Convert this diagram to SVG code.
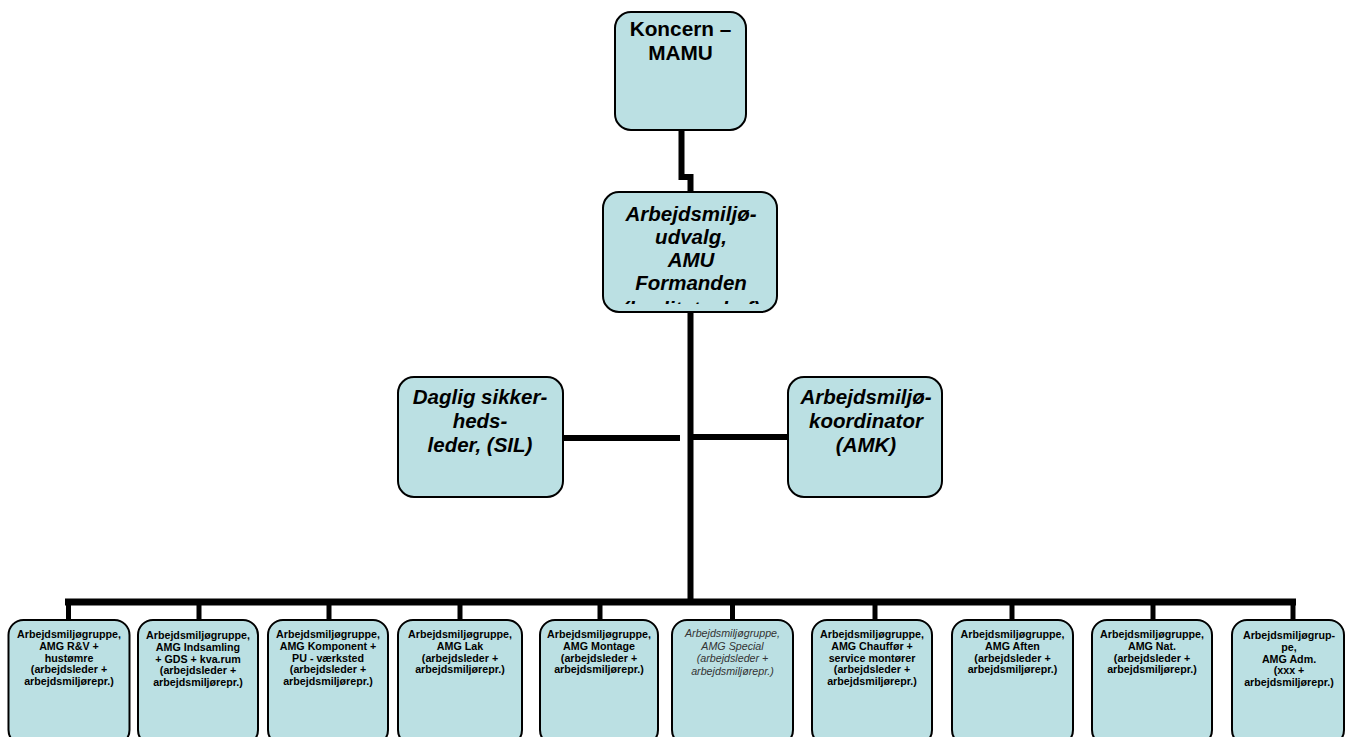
<svg xmlns="http://www.w3.org/2000/svg" width="1345" height="737" viewBox="0 0 1345 737">
<style>
.box{fill:#bbe0e3;stroke:#000;stroke-width:2}
.t{font-family:"Liberation Sans",Arial,sans-serif;text-anchor:middle;fill:#000}
.big{font-size:20.8px;font-weight:bold}
.bi{font-size:20.5px;font-weight:bold;font-style:italic}
.sm{font-size:10.7px;font-weight:bold}
.si{font-size:10.7px;font-style:italic;fill:#333}
.ln{fill:none;stroke:#000;stroke-linejoin:miter;stroke-linecap:butt}
</style>
<defs>
<clipPath id="amuclip"><rect x="603" y="192" width="174" height="112"/></clipPath>
</defs>
<rect width="1345" height="737" fill="#fff"/>
<g id="connectors">
<polyline class="ln" stroke-width="6" points="681.5,130 681.5,177 690.5,177 690.5,192"/>
<line class="ln" stroke-width="6" x1="690.5" y1="312" x2="690.5" y2="605"/>
<line class="ln" stroke-width="6" x1="563" y1="438" x2="680" y2="438"/>
<line class="ln" stroke-width="6" x1="693" y1="437" x2="788" y2="437"/>
<line class="ln" stroke-width="7" x1="65" y1="602" x2="1296" y2="602"/>
<g stroke-width="5" class="ln">
<line x1="68.5" y1="602" x2="68.5" y2="620"/>
<line x1="199" y1="602" x2="199" y2="620"/>
<line x1="329" y1="602" x2="329" y2="620"/>
<line x1="460" y1="602" x2="460" y2="620"/>
<line x1="600" y1="602" x2="600" y2="620"/>
<line x1="732.5" y1="602" x2="732.5" y2="620"/>
<line x1="875" y1="602" x2="875" y2="620"/>
<line x1="1012" y1="602" x2="1012" y2="620"/>
<line x1="1153" y1="602" x2="1153" y2="620"/>
<line x1="1293" y1="602" x2="1293" y2="620"/>
</g>
</g>
<g id="n-koncern">
<rect class="box" x="615" y="12" width="131" height="118" rx="16"/>
<text class="t big" x="680.5" y="36">Koncern –</text>
<text class="t big" x="680.5" y="60">MAMU</text>
</g>
<g id="n-amu">
<rect class="box" x="603" y="192" width="174" height="120" rx="16"/>
<g clip-path="url(#amuclip)">
<text class="t bi" x="691" y="221">Arbejdsmiljø-</text>
<text class="t bi" x="691" y="244">udvalg,</text>
<text class="t bi" x="691" y="267">AMU</text>
<text class="t bi" x="691" y="290">Formanden</text>
<text class="t bi" x="691" y="316">(kvalitetschef)</text>
</g>
</g>
<g id="n-sil">
<rect class="box" x="398" y="377" width="165" height="120" rx="16"/>
<text class="t bi" x="480" y="404">Daglig sikker-</text>
<text class="t bi" x="480" y="428">heds-</text>
<text class="t bi" x="480" y="452">leder, (SIL)</text>
</g>
<g id="n-amk">
<rect class="box" x="788" y="377" width="154" height="120" rx="16"/>
<text class="t bi" x="866" y="404">Arbejdsmiljø-</text>
<text class="t bi" x="866" y="428">koordinator</text>
<text class="t bi" x="866" y="452">(AMK)</text>
</g>
<g id="n-rv">
<rect class="box" x="8.5" y="620" width="121" height="125" rx="15"/>
<text class="t sm" x="69" y="638">Arbejdsmiljøgruppe,</text>
<text class="t sm" x="69" y="649.8">AMG R&amp;V +</text>
<text class="t sm" x="69" y="661.6">hustømre</text>
<text class="t sm" x="69" y="673.4">(arbejdsleder +</text>
<text class="t sm" x="69" y="685.2">arbejdsmiljørepr.)</text>
</g>
<g id="n-indsamling">
<rect class="box" x="138" y="620" width="120" height="125" rx="15"/>
<text class="t sm" x="198" y="639">Arbejdsmiljøgruppe,</text>
<text class="t sm" x="198" y="650.8">AMG Indsamling</text>
<text class="t sm" x="198" y="662.6">+ GDS + kva.rum</text>
<text class="t sm" x="198" y="674.4">(arbejdsleder +</text>
<text class="t sm" x="198" y="686.2">arbejdsmiljørepr.)</text>
</g>
<g id="n-komponent">
<rect class="box" x="268" y="620" width="120" height="125" rx="15"/>
<text class="t sm" x="328" y="638">Arbejdsmiljøgruppe,</text>
<text class="t sm" x="328" y="649.8">AMG Komponent +</text>
<text class="t sm" x="328" y="661.6">PU - værksted</text>
<text class="t sm" x="328" y="673.4">(arbejdsleder +</text>
<text class="t sm" x="328" y="685.2">arbejdsmiljørepr.)</text>
</g>
<g id="n-lak">
<rect class="box" x="398" y="620" width="124" height="125" rx="15"/>
<text class="t sm" x="460" y="638">Arbejdsmiljøgruppe,</text>
<text class="t sm" x="460" y="649.8">AMG Lak</text>
<text class="t sm" x="460" y="661.6">(arbejdsleder +</text>
<text class="t sm" x="460" y="673.4">arbejdsmiljørepr.)</text>
</g>
<g id="n-montage">
<rect class="box" x="540" y="620" width="118" height="125" rx="15"/>
<text class="t sm" x="599" y="638">Arbejdsmiljøgruppe,</text>
<text class="t sm" x="599" y="649.8">AMG Montage</text>
<text class="t sm" x="599" y="661.6">(arbejdsleder +</text>
<text class="t sm" x="599" y="673.4">arbejdsmiljørepr.)</text>
</g>
<g id="n-special">
<rect class="box" x="672" y="620" width="121" height="125" rx="15"/>
<text class="t si" x="732.5" y="637">Arbejdsmiljøgruppe,</text>
<text class="t si" x="732.5" y="649.5">AMG Special</text>
<text class="t si" x="732.5" y="662">(arbejdsleder +</text>
<text class="t si" x="732.5" y="674.5">arbejdsmiljørepr.)</text>
</g>
<g id="n-chauffor">
<rect class="box" x="812" y="620" width="120" height="125" rx="15"/>
<text class="t sm" x="872" y="638">Arbejdsmiljøgruppe,</text>
<text class="t sm" x="872" y="649.8">AMG Chauffør +</text>
<text class="t sm" x="872" y="661.6">service montører</text>
<text class="t sm" x="872" y="673.4">(arbejdsleder +</text>
<text class="t sm" x="872" y="685.2">arbejdsmiljørepr.)</text>
</g>
<g id="n-aften">
<rect class="box" x="952" y="620" width="121" height="125" rx="15"/>
<text class="t sm" x="1012.5" y="638">Arbejdsmiljøgruppe,</text>
<text class="t sm" x="1012.5" y="649.8">AMG Aften</text>
<text class="t sm" x="1012.5" y="661.6">(arbejdsleder +</text>
<text class="t sm" x="1012.5" y="673.4">arbejdsmiljørepr.)</text>
</g>
<g id="n-nat">
<rect class="box" x="1092" y="620" width="120" height="125" rx="15"/>
<text class="t sm" x="1152" y="638">Arbejdsmiljøgruppe,</text>
<text class="t sm" x="1152" y="649.8">AMG Nat.</text>
<text class="t sm" x="1152" y="661.6">(arbejdsleder +</text>
<text class="t sm" x="1152" y="673.4">arbejdsmiljørepr.)</text>
</g>
<g id="n-adm">
<rect class="box" x="1232" y="620" width="112" height="125" rx="15"/>
<text class="t sm" x="1289" y="639">Arbejdsmiljøgrup-</text>
<text class="t sm" x="1289" y="650.8">pe,</text>
<text class="t sm" x="1289" y="662.6">AMG Adm.</text>
<text class="t sm" x="1289" y="674.4">(xxx +</text>
<text class="t sm" x="1289" y="686.2">arbejdsmiljørepr.)</text>
</g>
</svg>
